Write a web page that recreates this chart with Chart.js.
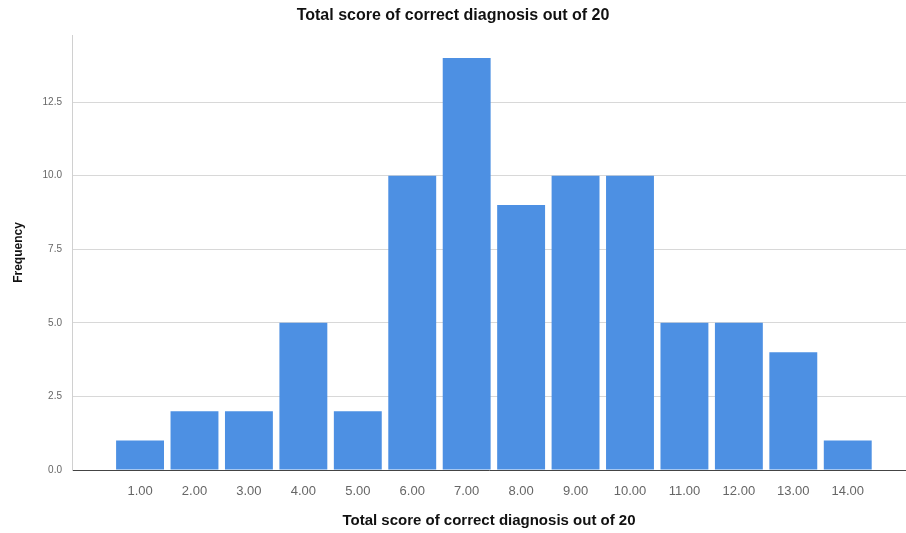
<!DOCTYPE html>
<html>
<head>
<meta charset="utf-8">
<script src="https://cdn.jsdelivr.net/npm/chart.js@4/dist/chart.umd.min.js"></script>
<style>
  html, body { margin: 0; padding: 0; background: #fff; }
  #wrap { width: 906px; height: 533px; }
</style>
</head>
<body>
<div id="wrap"><canvas id="chart" width="906" height="533"></canvas></div>
<script>
    // score categories and their frequencies
    const scores = [1, 2, 3, 4, 5, 6, 7, 8, 9, 10, 11, 12, 13, 14];
    const frequency = [1, 2, 2, 5, 2, 10, 14, 9, 10, 10, 5, 5, 4, 1];
    const yTicks = [0, 2.5, 5, 7.5, 10, 12.5];

    const font = "'Liberation Sans', Arial, sans-serif";

    const ctx = document.getElementById("chart").getContext("2d");
    new Chart(ctx, {
        type: "bar",
        data: {
            datasets: [{
                label: "Frequency",
                data: scores.map((s, i) => ({ x: s, y: frequency[i] })),
                backgroundColor: "#4d90e3",
                borderWidth: 0,
                categoryPercentage: 1,
                barPercentage: 0.88,
            }],
        },
        options: {
            responsive: false,
            animation: false,
            layout: { padding: { left: 0, right: 0, top: 0, bottom: 0 } },
            plugins: {
                legend: { display: false },
                tooltip: { enabled: false },
                title: {
                    display: true,
                    text: "Total score of correct diagnosis out of 20",
                    color: "#111",
                    font: { family: font, size: 16, weight: "bold" },
                    padding: { top: 6, bottom: 9.8 },
                },
            },
            scales: {
                x: {
                    type: "linear",
                    offset: false,
                    min: -0.25,
                    max: 15.07,
                    afterBuildTicks: s => { s.ticks = scores.map(v => ({ value: v })); },
                    afterFit: s => { s.height = 63; },
                    grid: { display: false, drawTicks: false },
                    border: { display: true, color: "#444", width: 1 },
                    ticks: {
                        autoSkip: false, maxRotation: 0, padding: 14,
                        color: "#666", font: { family: font, size: 13 },
                        callback: v => Number(v).toFixed(2),
                    },
                    title: {
                        display: true,
                        text: "Total score of correct diagnosis out of 20",
                        color: "#111",
                        font: { family: font, size: 15, weight: "bold" },
                        padding: { top: 0, bottom: 3 },
                    },
                },
                y: {
                    min: 0,
                    max: 14.78,
                    afterBuildTicks: s => { s.ticks = yTicks.map(v => ({ value: v })); },
                    afterFit: s => { s.width = 72; },
                    grid: { color: "#d8d8d8", drawTicks: false },
                    border: { display: true, color: "#d0d0d0" },
                    ticks: {
                        padding: 10, color: "#666",
                        font: { family: font, size: 10 },
                        callback: v => Number(v).toFixed(1),
                    },
                    title: {
                        display: true,
                        text: "Frequency",
                        color: "#111",
                        font: { family: font, size: 12, weight: "bold" },
                        padding: { top: 11, bottom: 0 },
                    },
                },
            },
        },
    });
</script>
</body>
</html>
